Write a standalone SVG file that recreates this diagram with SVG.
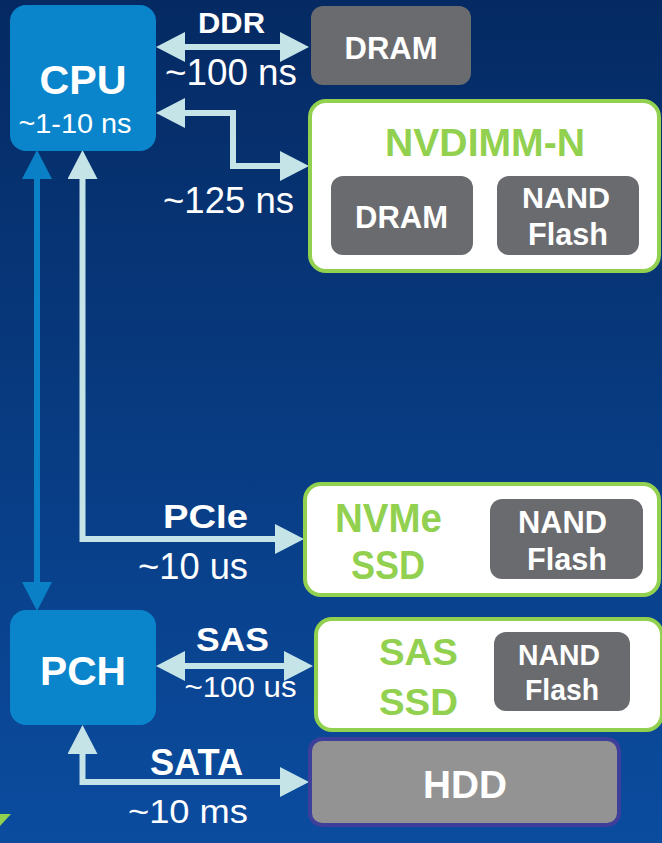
<svg xmlns="http://www.w3.org/2000/svg" width="662" height="843" viewBox="0 0 662 843">
<style>
.t{font-family:"Liberation Sans",Arial,sans-serif;text-anchor:middle;fill:#ffffff}
.b{font-weight:bold}
.g{fill:#92d050}
.cpu{fill:#0a85cb}
.chip{fill:#6a6b6f}
.card{fill:#ffffff;stroke:#92d050;stroke-width:4}
.lc{fill:none;stroke:#c4e4e7;stroke-width:6;stroke-linejoin:miter}
.dc{fill:none;stroke:#0a80c6;stroke-width:6}
</style>
<defs>
<linearGradient id="bg" x1="0" y1="0" x2="0" y2="1">
<stop offset="0" stop-color="#052a63"/>
<stop offset="1" stop-color="#0b4c9f"/>
</linearGradient>
<marker id="ah" markerUnits="userSpaceOnUse" markerWidth="29" markerHeight="30" viewBox="0 0 29 30" refX="0" refY="15" orient="auto-start-reverse">
<path d="M0,0 L29,15 L0,30 z" fill="#c4e4e7"/>
</marker>
<marker id="ahd" markerUnits="userSpaceOnUse" markerWidth="29" markerHeight="30" viewBox="0 0 29 30" refX="0" refY="15" orient="auto-start-reverse">
<path d="M0,0 L29,15 L0,30 z" fill="#0a80c6"/>
</marker>
</defs>
<rect x="0" y="0" width="662" height="843" fill="url(#bg)"/>
<polygon points="0,814 11,814 0,826" fill="#92d050"/>

<g id="connectors">
<path class="lc" d="M185,47 H280" marker-start="url(#ah)" marker-end="url(#ah)"/>
<path class="lc" d="M185,113 H233 V166 H280" marker-start="url(#ah)" marker-end="url(#ah)"/>
<path class="dc" d="M37,179 V582" marker-start="url(#ahd)" marker-end="url(#ahd)"/>
<path class="lc" d="M82.5,179 V539 H275" marker-start="url(#ah)" marker-end="url(#ah)"/>
<path class="lc" d="M185,666 H284" marker-start="url(#ah)" marker-end="url(#ah)"/>
<path class="lc" d="M82.5,754 V782 H280" marker-start="url(#ah)" marker-end="url(#ah)"/>
<text class="t b" x="231.5" y="33" font-size="29" textLength="67" lengthAdjust="spacingAndGlyphs">DDR</text>
<text class="t" x="231" y="85" font-size="37" textLength="132" lengthAdjust="spacingAndGlyphs">~100 ns</text>
<text class="t" x="228.5" y="213" font-size="37" textLength="131" lengthAdjust="spacingAndGlyphs">~125 ns</text>
<text class="t b" x="205.5" y="528" font-size="34" textLength="85" lengthAdjust="spacingAndGlyphs">PCIe</text>
<text class="t" x="193" y="579" font-size="36" textLength="110" lengthAdjust="spacingAndGlyphs">~10 us</text>
<text class="t b" x="232.5" y="651" font-size="34" textLength="73" lengthAdjust="spacingAndGlyphs">SAS</text>
<text class="t" x="240.5" y="697" font-size="29" textLength="112" lengthAdjust="spacingAndGlyphs">~100 us</text>
<text class="t b" x="196.5" y="775" font-size="36" textLength="93" lengthAdjust="spacingAndGlyphs">SATA</text>
<text class="t" x="188" y="823" font-size="34" textLength="120" lengthAdjust="spacingAndGlyphs">~10 ms</text>
</g>

<g id="cpu">
<rect class="cpu" x="10" y="5" width="146" height="146" rx="16"/>
<text class="t b" x="83" y="94" font-size="41" textLength="87" lengthAdjust="spacingAndGlyphs">CPU</text>
<text class="t" x="75" y="133" font-size="27" textLength="113" lengthAdjust="spacingAndGlyphs">~1-10 ns</text>
</g>

<g id="dram">
<rect class="chip" x="311" y="6" width="160" height="79" rx="12"/>
<text class="t b" x="391" y="59" font-size="32" textLength="93" lengthAdjust="spacingAndGlyphs">DRAM</text>
</g>

<g id="nvdimm">
<rect class="card" x="310" y="101" width="349" height="170" rx="16"/>
<text class="t b g" x="485" y="156" font-size="39" textLength="200" lengthAdjust="spacingAndGlyphs">NVDIMM-N</text>
<rect class="chip" x="331" y="176" width="142" height="79" rx="12"/>
<text class="t b" x="401.5" y="228" font-size="32" textLength="93" lengthAdjust="spacingAndGlyphs">DRAM</text>
<rect class="chip" x="497" y="176" width="142" height="79" rx="12"/>
<text class="t b" x="566" y="208" font-size="30" textLength="88" lengthAdjust="spacingAndGlyphs">NAND</text>
<text class="t b" x="568" y="245" font-size="31" textLength="80" lengthAdjust="spacingAndGlyphs">Flash</text>
</g>

<g id="nvme">
<rect class="card" x="305" y="484" width="354" height="111" rx="16"/>
<text class="t b g" x="388.5" y="532" font-size="41" textLength="107" lengthAdjust="spacingAndGlyphs">NVMe</text>
<text class="t b g" x="388" y="579" font-size="41" textLength="74" lengthAdjust="spacingAndGlyphs">SSD</text>
<rect class="chip" x="490" y="499" width="153" height="80" rx="12"/>
<text class="t b" x="562.5" y="533" font-size="31" textLength="89" lengthAdjust="spacingAndGlyphs">NAND</text>
<text class="t b" x="567" y="570" font-size="31" textLength="80" lengthAdjust="spacingAndGlyphs">Flash</text>
</g>

<g id="pch">
<rect class="cpu" x="10" y="610" width="146" height="115" rx="16"/>
<text class="t b" x="83" y="685" font-size="40" textLength="86" lengthAdjust="spacingAndGlyphs">PCH</text>
</g>

<g id="sas-ssd">
<rect class="card" x="316" y="619" width="346" height="111" rx="16"/>
<text class="t b g" x="418.5" y="665" font-size="36" textLength="79" lengthAdjust="spacingAndGlyphs">SAS</text>
<text class="t b g" x="418.5" y="715" font-size="36" textLength="79" lengthAdjust="spacingAndGlyphs">SSD</text>
<rect class="chip" x="494" y="632" width="136" height="79" rx="12"/>
<text class="t b" x="559" y="665" font-size="29" textLength="82" lengthAdjust="spacingAndGlyphs">NAND</text>
<text class="t b" x="562" y="700" font-size="29" textLength="74" lengthAdjust="spacingAndGlyphs">Flash</text>
</g>

<g id="hdd">
<rect x="310" y="739" width="309" height="86" rx="12" fill="#939393" stroke="#3d3f9a" stroke-width="4"/>
<text class="t b" x="465" y="798" font-size="39" textLength="84" lengthAdjust="spacingAndGlyphs">HDD</text>
</g>
</svg>
